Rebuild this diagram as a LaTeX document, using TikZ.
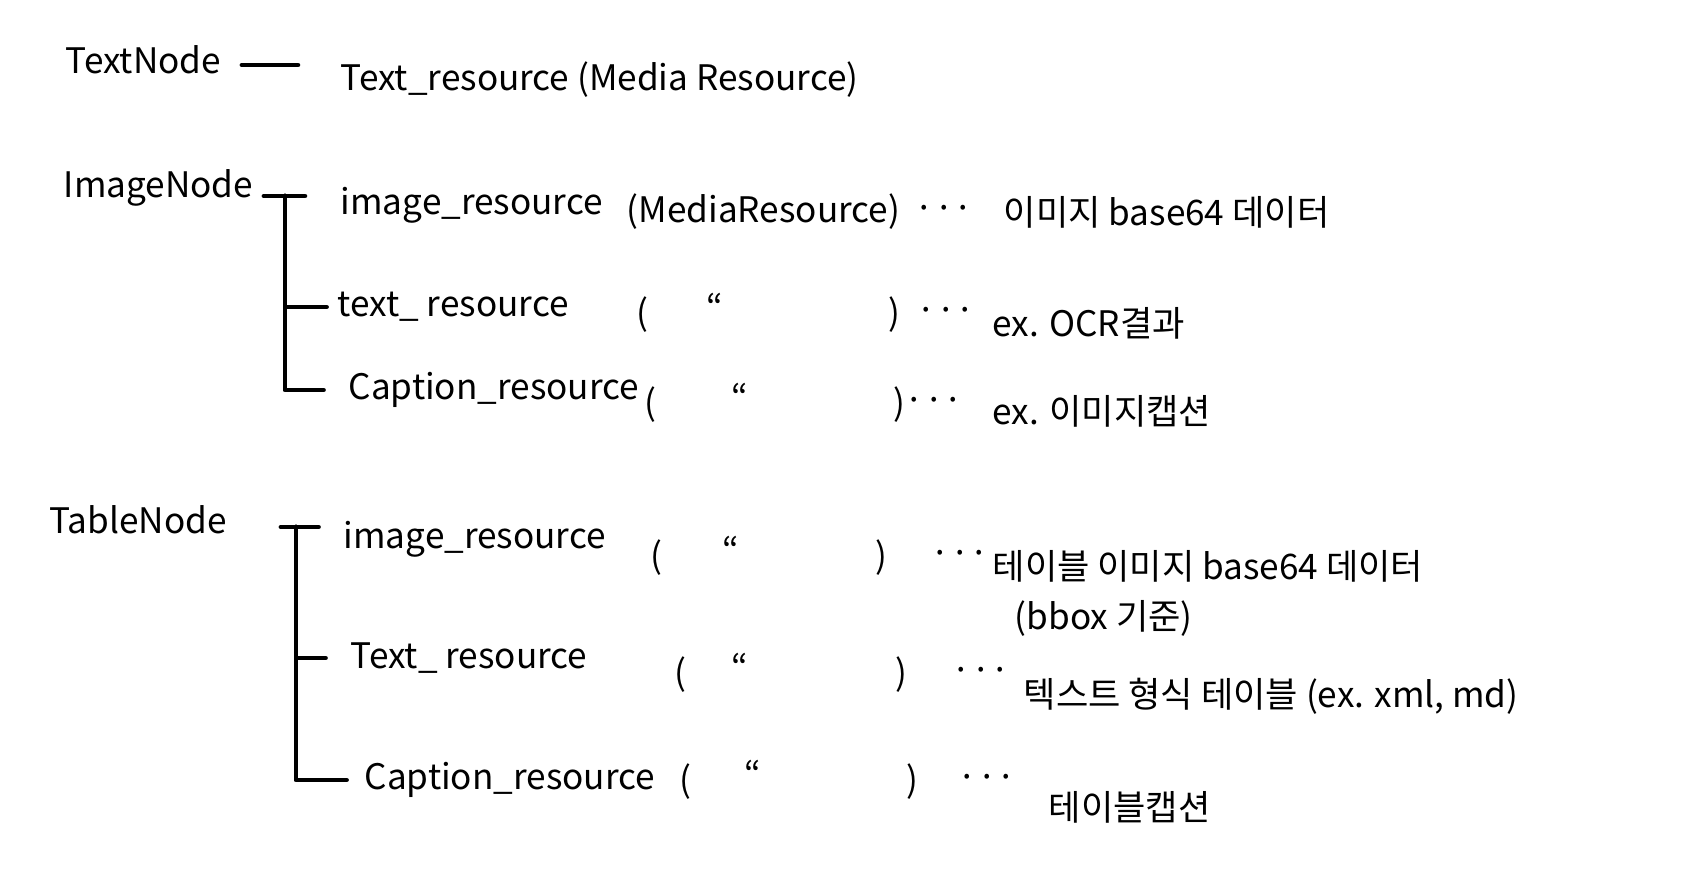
\documentclass[tikz,border=0pt]{standalone}
\usepackage{fontspec}
\setmainfont{Noto Sans CJK KR}
\usetikzlibrary{positioning, calc}

\begin{document}
\begin{tikzpicture}[
    font=\fontsize{10}{12}\selectfont,
    lbl/.style={anchor=west, inner sep=0pt},
    sym/.style={inner sep=0pt},
    tree/.style={line width=1.4pt, line cap=round, line join=round}
  ]
  \useasboundingbox (0,0) rectangle (17.06,-8.78);

  % TextNode
  \node[lbl] (textnode) at (0.65,-0.60) {TextNode};
  \node[lbl] (textres)  at (3.40,-0.80) {Text\_resource (Media Resource)};
  \coordinate (textstub) at (2.42,-0.65);
  \draw[tree, shorten >=12pt] (textstub) -- (textstub -| textres.west);

  % ImageNode
  \node[lbl] (imgnode) at (0.63,-1.88) {ImageNode};
  \node[lbl] (imgres)  at (3.40,-2.05) {image\_resource};
  \node[lbl] (imgmr)   at (6.26,-2.12) {(MediaResource)};
  \node[sym] (imgdots) at (9.44,-2.13) {···};
  \node[lbl] (imgdesc) at (10.03,-2.12) {이미지 base64 데이터};
  \node[lbl] (txtres)  at (3.37,-3.07) {text\_ resource};
  \node[lbl] (capres)  at (3.48,-3.90) {Caption\_resource};
  \coordinate (imgfork) at (2.85,-1.96);
  \coordinate (imgstub) at (2.64,-1.96);
  \draw[tree, shorten >=10pt] (imgstub) -- (imgres.west |- imgstub);
  \draw[tree, shorten >=3pt] (imgfork) |- (txtres.west);
  \draw[tree, shorten >=7pt] (imgfork) |- (capres.west);

  % TableNode
  \node[lbl] (tblnode)   at (0.49,-5.20) {TableNode};
  \node[lbl] (tblimgres) at (3.43,-5.39) {image\_resource};
  \node[lbl] (tbltxtres) at (3.50,-6.58) {Text\_ resource};
  \node[lbl] (tblcapres) at (3.64,-7.80) {Caption\_resource};
  \coordinate (tblfork) at (2.96,-5.27);
  \coordinate (tblstub) at (2.81,-5.27);
  \draw[tree, shorten >=7pt] (tblstub) -- (tblimgres.west |- tblstub);
  \draw[tree, shorten >=7pt] (tblfork) |- (tbltxtres.west);
  \draw[tree, shorten >=5pt] (tblfork) |- (tblcapres.west);

  % ( " ) ... columns
  \foreach \n/\yy/\xa/\xb/\xc/\xd in {
      imgtxt/3.15/6.42/7.15/8.94/9.46,
      imgcap/4.05/6.50/7.40/8.99/9.34,
      tblimg/5.58/6.56/7.31/8.81/9.60,
      tbltxt/6.75/6.80/7.40/9.01/9.81,
      tblcap/7.82/6.85/7.53/9.12/9.87}{
    \node[sym] (\n-l) at (\xa,-\yy) {(};
    \node[sym] (\n-d) at (\xb,-\yy+0.08) {“};
    \node[sym] (\n-r) at (\xc,-\yy) {)};
    \node[sym] (\n-dots) at (\xd,-\yy) {···};
  }

  \node[lbl] (imgtxtdesc) at (9.92,-3.23) {ex. OCR결과};
  \node[lbl] (imgcapdesc) at (9.92,-4.11) {ex. 이미지캡션};
  \node[lbl] (tblimgdesc) at (9.92,-5.66) {테이블 이미지 base64 데이터};
  \node[lbl] (tblbbox)    at (10.14,-6.18) {(bbox 기준)};
  \node[lbl] (tbltxtdesc) at (10.23,-6.96) {텍스트 형식 테이블 (ex. xml, md)};
  \node[lbl] (tblcapdesc) at (10.48,-8.07) {테이블캡션};
\end{tikzpicture}
\end{document}
